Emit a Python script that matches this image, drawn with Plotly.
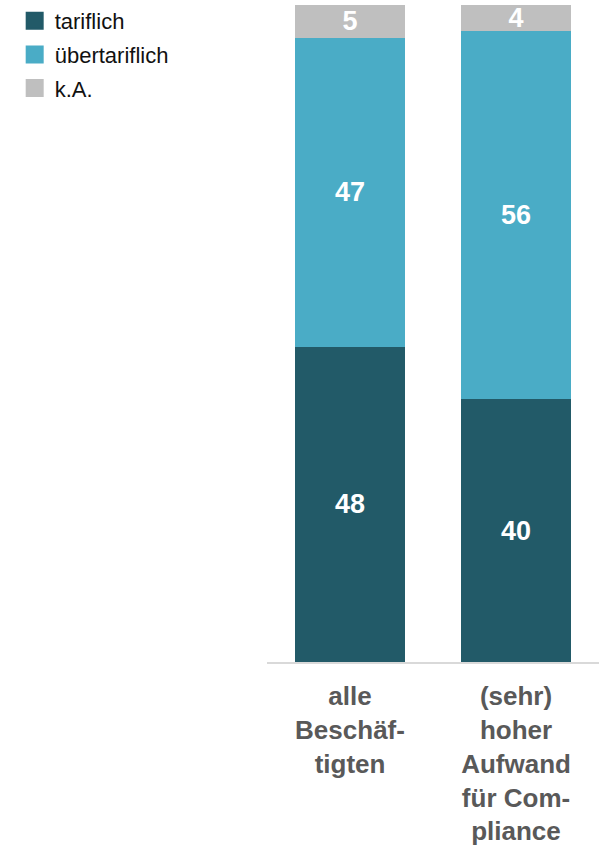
import plotly.graph_objects as go

categories = ["alle<br>Beschäf-<br>tigten", "(sehr)<br>hoher<br>Aufwand<br>für Com-<br>pliance"]
series_names = ["tariflich", "übertariflich", "k.A."]
tariflich = [48, 40]
uebertariflich = [47, 56]
ka = [5, 4]
colors = ["#225a68", "#4aacc6", "#bfbfbf"]

FONT = "Liberation Sans, Arial, sans-serif"

fig = go.Figure()
for name, vals, col in zip(series_names, [tariflich, uebertariflich, ka], colors):
    fig.add_trace(go.Bar(
        x=categories, y=vals, name=name,
        marker=dict(color=col, line=dict(width=0)),
        text=vals, texttemplate="<b>%{text}</b>",
        textposition="inside", insidetextanchor="middle", textangle=0,
        textfont=dict(family=FONT, size=27, color="white"),
        showlegend=False,
    ))

for name, col in zip(series_names, colors):
    # legend entries
    fig.add_trace(go.Scatter(
        x=[None], y=[None], mode="markers", name=name, legendgroup=name,
        marker=dict(symbol="square", size=16, color=col, line=dict(color=col, width=2)),
        showlegend=True,
    ))

fig.update_layout(
    width=599, height=848,
    barmode="stack", bargap=0.337,
    margin=dict(l=267, r=0, t=5, b=186),
    paper_bgcolor="white", plot_bgcolor="white",
    uniformtext=dict(mode="show", minsize=27),
    legend=dict(
        x=-0.76, xanchor="left", y=1.0076, yanchor="top",
        font=dict(family=FONT, size=22, color="#111111"),
        bgcolor="rgba(0,0,0,0)", tracegroupgap=2, traceorder="grouped",
        itemclick=False,
    ),
    xaxis=dict(
        showline=True, linecolor="#d9d9d9", linewidth=2,
        tickfont=dict(family=FONT, size=26, color="#595959"),
        ticks="", showgrid=False, fixedrange=True,
        ticklabelstandoff=10,
        tickprefix="<b>", ticksuffix="</b>",
    ),
    yaxis=dict(range=[0, 100], visible=False, showgrid=False, fixedrange=True),
)

fig.write_html("out.html")
